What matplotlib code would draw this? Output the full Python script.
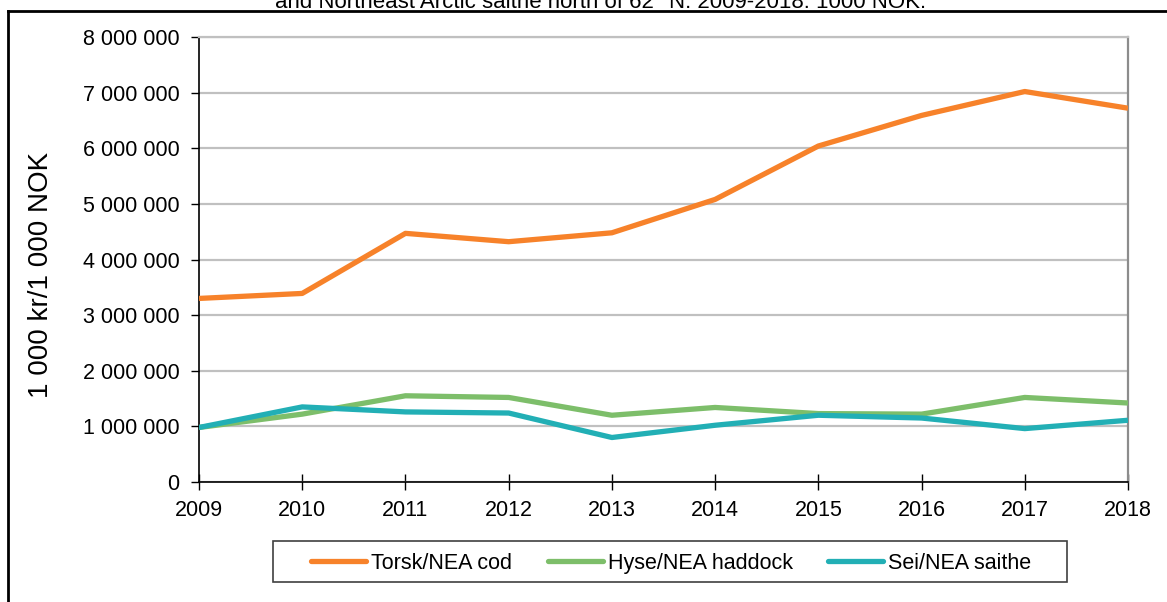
import matplotlib
matplotlib.use("Agg")
import matplotlib.pyplot as plt
from matplotlib.ticker import FuncFormatter
from matplotlib.lines import Line2D
from matplotlib.patches import Rectangle

plt.rcParams['font.family'] = ['Liberation Sans', 'DejaVu Sans']

years = [2009, 2010, 2011, 2012, 2013, 2014, 2015, 2016, 2017, 2018]
cod = [3300000, 3390000, 4470000, 4320000, 4480000, 5080000, 6040000, 6590000, 7020000, 6720000]
haddock = [980000, 1220000, 1550000, 1520000, 1200000, 1340000, 1230000, 1220000, 1520000, 1420000]
saithe = [980000, 1350000, 1260000, 1240000, 800000, 1020000, 1200000, 1150000, 960000, 1110000]
labels = ["Torsk/NEA cod", "Hyse/NEA haddock", "Sei/NEA saithe"]
colors = ["#F7822A", "#7DBE6A", "#22AFB5"]

W, H = 1167, 602
fig = plt.figure(figsize=(W / 100, H / 100), dpi=100)
ax = fig.add_axes([199 / W, 1 - 482 / H, (1128 - 199) / W, (482 - 37) / H])

for vals, lab, c in zip([cod, haddock, saithe], labels, colors):
    ax.plot(years, vals, color=c, lw=3.8, label=lab, solid_capstyle='butt', zorder=3)

ax.set_xlim(2009, 2018)
ax.set_ylim(0, 8000000)
ax.set_xticks(years)
ax.set_yticks(range(0, 8000001, 1000000))
ax.yaxis.set_major_formatter(FuncFormatter(lambda v, p: f"{v:,.0f}".replace(",", " ")))
ax.grid(axis='y', color='#C0C0C0', lw=1.6, zorder=1)
ax.set_axisbelow(True)

ax.spines['right'].set_color('#8C8C8C')
ax.spines['right'].set_linewidth(1.6)
ax.spines['top'].set_color('#C0C0C0')
ax.spines['top'].set_linewidth(1.6)
for s in ['left', 'bottom']:
    ax.spines[s].set_color('black')
    ax.spines[s].set_linewidth(1.2)

ax.tick_params(axis='x', direction='inout', length=12, width=1, labelsize=15.5, pad=7)
ax.tick_params(axis='y', direction='out', length=6, width=1, labelsize=15.5, pad=8)

ax.set_ylabel("1 000 kr/1 000 NOK", fontsize=20)
ax.yaxis.set_label_coords(-0.156, 0.465)

# cut-off title at the top
fig.text(601 / W, 1 - 8 / H, "and Northeast Arctic saithe north of 62° N. 2009-2018. 1000 NOK.",
         ha='center', va='baseline', fontsize=16)

# outer frame, runs off the right and bottom of the image
fig.add_artist(Line2D([8 / W, 1], [1 - 11 / H, 1 - 11 / H], color='black', lw=2, transform=fig.transFigure))
fig.add_artist(Line2D([8 / W, 8 / W], [0, 1 - 11 / H], color='black', lw=2, transform=fig.transFigure))

# legend, drawn by hand so the labels share one baseline
fig.add_artist(Rectangle((273 / W, 1 - 582 / H), (1067 - 273) / W, 41 / H, transform=fig.transFigure,
                         fill=False, edgecolor='#404040', lw=1.2))
handle_x = [311, 548, 828]
ly = 1 - 561 / H
for hx, lab, c in zip(handle_x, labels, colors):
    fig.add_artist(Line2D([hx / W, (hx + 55) / W], [ly, ly], color=c, lw=3.8,
                          solid_capstyle='round', transform=fig.transFigure))
    fig.text((hx + 60) / W, ly, lab, fontsize=15.5, ha='left', va='center_baseline')

fig.savefig("out.png", dpi=100)
